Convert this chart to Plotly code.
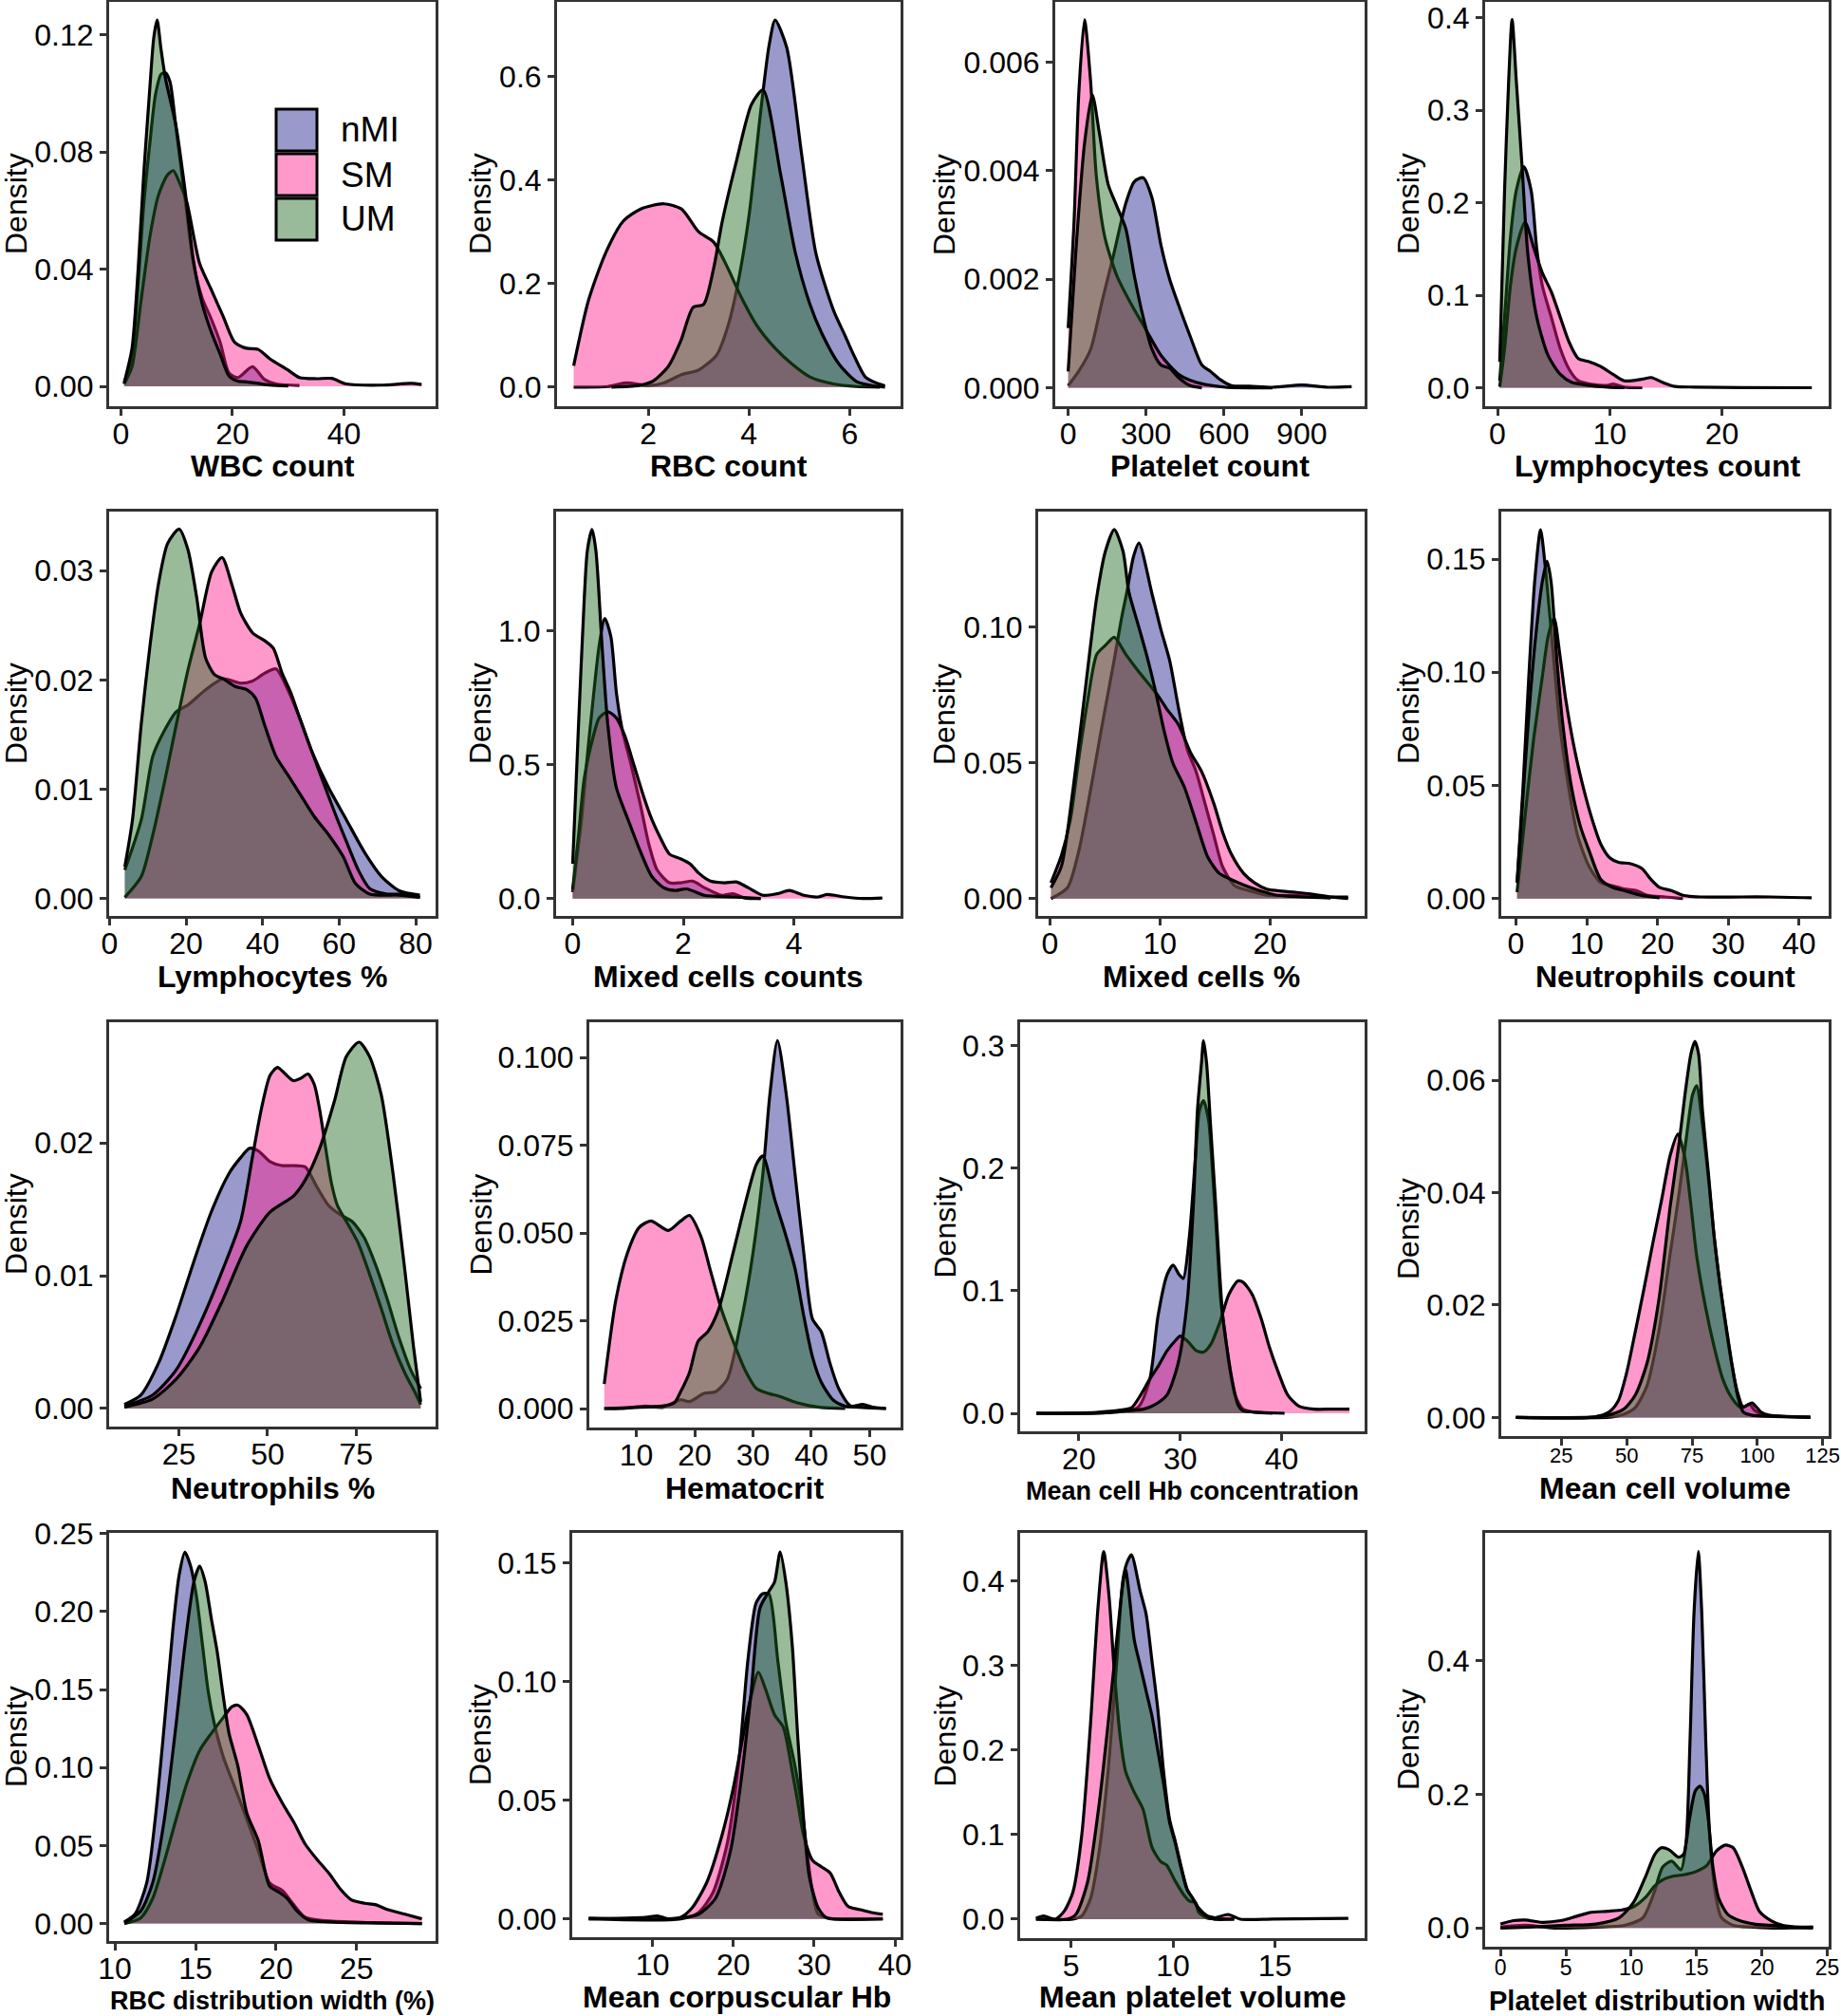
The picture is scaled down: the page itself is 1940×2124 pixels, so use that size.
import plotly.graph_objects as go

# ---------------- density curves ----------------
# WBC count
wbc_nmi_x = [0.6, 2, 3.1, 4.1, 5.2, 6.2, 7.2, 8, 8.8, 9.9, 11.5, 13, 14.6, 16.2, 17.8, 19.4, 21, 23.6, 25.7, 27.8, 32]
wbc_nmi_y = [0.0008, 0.011, 0.035, 0.062, 0.083, 0.0995, 0.1065, 0.107, 0.104, 0.088, 0.064, 0.042, 0.030, 0.023, 0.015, 0.0045, 0.003, 0.0067, 0.0024, 0.0008, 0.0003]
wbc_sm_x = [0.6, 2, 3.6, 5.2, 6.7, 8.3, 9.4, 10.4, 11.8, 14.1, 16.2, 18.3, 20.4, 22.5, 24.6, 26.7, 29.9, 32, 35, 37.8, 40.4, 46.7, 52, 53.9]
wbc_sm_y = [0.0008, 0.0067, 0.029, 0.051, 0.065, 0.072, 0.0736, 0.070, 0.063, 0.042, 0.033, 0.024, 0.015, 0.013, 0.0126, 0.0094, 0.0056, 0.003, 0.0026, 0.0027, 0.0008, 0.0004, 0.001, 0.0006]
wbc_um_x = [0.6, 2, 3.1, 4.1, 5.2, 5.9, 6.5, 7.2, 8, 9.9, 11.5, 13, 14.6, 16.2, 17.8, 19.4, 20.9, 22.5, 24.6, 26.7, 30]
wbc_um_y = [0.0013, 0.013, 0.04, 0.0725, 0.102, 0.119, 0.125, 0.115, 0.105, 0.0887, 0.067, 0.043, 0.028, 0.0186, 0.011, 0.0035, 0.0018, 0.0015, 0.001, 0.0004, 0.0001]

# RBC count
rbc_nmi_x = [0.52, 1.2, 1.56, 2.0, 2.31, 2.66, 3.0, 3.36, 3.59, 3.76, 4.0, 4.23, 4.4, 4.52, 4.75, 5.04, 5.33, 5.68, 5.91, 6.08, 6.31, 6.54, 6.7]
rbc_nmi_y = [0.0, 0.001, 0.008, 0.003, 0.008, 0.024, 0.033, 0.062, 0.12, 0.19, 0.33, 0.53, 0.66, 0.709, 0.656, 0.454, 0.258, 0.148, 0.099, 0.062, 0.0196, 0.0073, 0.0024]
rbc_sm_x = [0.52, 0.81, 1.15, 1.5, 1.85, 2.31, 2.66, 3.0, 3.3, 3.59, 3.82, 4.17, 4.52, 4.86, 5.21, 5.68, 6.14, 6.6]
rbc_sm_y = [0.041, 0.166, 0.258, 0.32, 0.344, 0.354, 0.344, 0.30, 0.28, 0.228, 0.179, 0.117, 0.075, 0.044, 0.0196, 0.006, 0.001, 0.0]
rbc_um_x = [1.27, 1.8, 2.1, 2.4, 2.65, 2.89, 3.1, 3.3, 3.47, 3.76, 4.05, 4.28, 4.63, 4.92, 5.21, 5.44, 5.79, 6.14, 6.5, 6.7]
rbc_um_y = [0.0, 0.003, 0.012, 0.04, 0.09, 0.154, 0.16, 0.23, 0.32, 0.44, 0.546, 0.574, 0.41, 0.26, 0.16, 0.105, 0.044, 0.0104, 0.002, 0.0]

# Platelet count
plt_nmi_x = [0, 40, 86, 131, 176, 222, 255, 289, 323, 357, 391, 425, 470, 515, 549, 583, 629, 700, 787, 900, 1000, 1092]
plt_nmi_y = [0.00004, 0.0003, 0.0007, 0.0016, 0.00247, 0.0034, 0.0038, 0.00387, 0.0035, 0.00264, 0.002, 0.00153, 0.00095, 0.00042, 0.0003, 0.00016, 0.00004, 0.00003, 0.00001, 0.00005, 0.00001, 0.00002]
plt_sm_x = [0, 22.6, 40.7, 63, 86, 108.5, 142, 188, 244, 301, 357, 425, 493, 606, 787]
plt_sm_y = [0.0011, 0.00305, 0.0054, 0.00678, 0.00568, 0.0039, 0.00276, 0.00206, 0.00153, 0.00106, 0.0006, 0.00025, 0.0001, 0.00001, 0.0]
plt_um_x = [0, 29, 63, 93, 120, 154, 188, 222, 255, 289, 323, 357, 391, 425, 470, 515]
plt_um_y = [0.0003, 0.00247, 0.0045, 0.0054, 0.0047, 0.00375, 0.00334, 0.00293, 0.00206, 0.0013, 0.00071, 0.00042, 0.00036, 0.00019, 0.00004, 0.0]

# Lymphocytes count
lym_nmi_x = [0.2, 0.63, 1.15, 1.67, 2.35, 3.0, 3.5, 4.0, 4.8, 5.6, 6.4, 7.2, 8.2, 9.8, 10.3, 11.3, 12.9]
lym_nmi_y = [0.0075, 0.076, 0.162, 0.213, 0.239, 0.213, 0.15, 0.11, 0.076, 0.042, 0.0195, 0.0075, 0.004, 0.0024, 0.004, 0.0007, 0.0]
lym_sm_x = [0.2, 0.63, 1.15, 1.67, 2.45, 3.24, 4.0, 4.8, 5.6, 6.4, 7.2, 8.2, 9.2, 10.3, 11.3, 12.9, 13.7, 14.7, 15.8, 17.6, 21.8, 28]
lym_sm_y = [0.001, 0.042, 0.11, 0.151, 0.179, 0.151, 0.124, 0.1035, 0.076, 0.0487, 0.0315, 0.028, 0.023, 0.0144, 0.0075, 0.0093, 0.011, 0.0058, 0.0014, 0.0007, 0.0002, 0.0]
lym_um_x = [0.2, 0.63, 1.0, 1.3, 1.67, 2.2, 2.7, 3.5, 4.5, 5.6, 6.6, 8.2, 9.8, 11.3]
lym_um_y = [0.028, 0.213, 0.333, 0.398, 0.333, 0.237, 0.145, 0.076, 0.035, 0.0144, 0.0058, 0.0024, 0.0007, 0.0]

# Lymphocytes %
lyp_nmi_x = [4.0, 8.3, 11.3, 14.4, 17.5, 20.5, 25.1, 29.7, 34.3, 37.4, 40.5, 43.5, 46.6, 49.7, 52.7, 57.3, 61.9, 66.5, 71.1, 75.7, 81.1]
lyp_nmi_y = [0.0026, 0.0072, 0.013, 0.0154, 0.0171, 0.0177, 0.0191, 0.0201, 0.0197, 0.0199, 0.0206, 0.021, 0.0191, 0.0165, 0.0136, 0.0101, 0.0072, 0.0043, 0.002, 0.0007, 0.0003]
lyp_sm_x = [4, 8.3, 11.3, 14.4, 17.5, 20.5, 23.6, 26.7, 29.4, 32, 34.3, 37.4, 40.5, 42.8, 45.1, 47.4, 49.7, 52.7, 55.8, 58.9, 61.9, 65, 68, 72.6, 77.2, 81.1]
lyp_sm_y = [0.0001, 0.002, 0.0058, 0.0107, 0.016, 0.0209, 0.0252, 0.0299, 0.0312, 0.0287, 0.0261, 0.0243, 0.0236, 0.0229, 0.0206, 0.0188, 0.0165, 0.0136, 0.0107, 0.0078, 0.0052, 0.0026, 0.0009, 0.0004, 0.0004, 0.0001]
lyp_um_x = [4.0, 6.0, 8.3, 10.6, 12.9, 15.2, 18.2, 20.5, 22.8, 25.1, 27.4, 29.7, 32.8, 35.9, 38.2, 40.5, 43.5, 46.6, 49.7, 53.5, 57.3, 61.1, 64.2, 68, 75.7, 81.1]
lyp_um_y = [0.0029, 0.0072, 0.016, 0.0232, 0.029, 0.0325, 0.0338, 0.0319, 0.0275, 0.022, 0.0205, 0.0201, 0.0194, 0.0191, 0.0183, 0.0159, 0.013, 0.0113, 0.0096, 0.0075, 0.0058, 0.0038, 0.0014, 0.0004, 0.0003, 0.0001]

# Mixed cells counts
mxc_nmi_x = [0, 0.16, 0.265, 0.37, 0.48, 0.58, 0.69, 0.79, 0.9, 1.06, 1.22, 1.38, 1.53, 1.75, 1.96, 2.17, 2.38, 2.7, 2.9, 3.12, 3.4]
mxc_nmi_y = [0.024, 0.296, 0.533, 0.746, 0.947, 1.047, 0.98, 0.77, 0.627, 0.497, 0.355, 0.201, 0.106, 0.059, 0.059, 0.065, 0.041, 0.012, 0.018, 0.002, 0.0]
mxc_sm_x = [0, 0.106, 0.21, 0.37, 0.48, 0.635, 0.79, 0.95, 1.11, 1.27, 1.43, 1.59, 1.75, 1.96, 2.12, 2.28, 2.49, 2.75, 2.96, 3.17, 3.44, 3.7, 3.92, 4.18, 4.44, 4.6, 4.92, 5.24, 5.6]
mxc_sm_y = [0.035, 0.237, 0.45, 0.604, 0.675, 0.698, 0.675, 0.604, 0.497, 0.39, 0.296, 0.225, 0.166, 0.148, 0.13, 0.095, 0.065, 0.059, 0.062, 0.041, 0.012, 0.018, 0.03, 0.012, 0.006, 0.015, 0.006, 0.0, 0.002]
mxc_um_x = [0, 0.106, 0.21, 0.265, 0.35, 0.42, 0.53, 0.635, 0.79, 1.0, 1.22, 1.43, 1.64, 1.85, 2.06, 2.38, 2.9, 3.4]
mxc_um_y = [0.13, 0.65, 1.124, 1.3, 1.379, 1.3, 0.947, 0.65, 0.414, 0.296, 0.178, 0.083, 0.041, 0.03, 0.036, 0.012, 0.006, 0.0]

# Mixed cells %
mxp_nmi_x = [0.1, 1.6, 2.66, 3.7, 4.8, 5.85, 6.5, 7.0, 7.6, 8.1, 9.3, 10.1, 10.9, 11.7, 12.5, 13.3, 14.1, 14.9, 15.7, 16.8, 18.1, 19.7, 22.3, 24.5, 27.1]
mxp_nmi_y = [0.0, 0.004, 0.018, 0.04, 0.065, 0.088, 0.103, 0.113, 0.126, 0.131, 0.112, 0.099, 0.0875, 0.07, 0.0548, 0.0467, 0.035, 0.0233, 0.0117, 0.0047, 0.0029, 0.0012, 0.0012, 0.0006, 0.0006]
mxp_sm_x = [0.1, 1.06, 1.86, 2.66, 3.46, 4.26, 5.05, 5.85, 6.9, 8.0, 9.0, 9.84, 10.6, 11.7, 12.8, 13.8, 14.9, 15.7, 16.5, 17.6, 18.6, 19.7, 20.7, 22.3, 23.7, 25.5, 27.1]
mxp_sm_y = [0.0058, 0.016, 0.029, 0.0525, 0.0735, 0.09, 0.0933, 0.0963, 0.09, 0.084, 0.079, 0.0747, 0.07, 0.064, 0.0537, 0.0467, 0.035, 0.0245, 0.0163, 0.0093, 0.0058, 0.0035, 0.0029, 0.0023, 0.0017, 0.0006, 0.0]
mxp_um_x = [0.1, 1.06, 2.13, 3.19, 4.26, 5.05, 5.85, 6.65, 7.18, 7.98, 8.78, 9.57, 10.37, 11.17, 12.23, 13.3, 14.36, 15.4, 16.5, 17.8, 19.1, 20.7, 22.9, 25.5]
mxp_um_y = [0.0040, 0.012, 0.041, 0.076, 0.111, 0.128, 0.136, 0.128, 0.113, 0.1015, 0.09, 0.077, 0.062, 0.05, 0.041, 0.028, 0.0152, 0.0093, 0.007, 0.0047, 0.0029, 0.0012, 0.0006, 0.0002]

# Neutrophils count
neu_nmi_x = [0.17, 1.0, 1.82, 2.65, 3.48, 4.14, 4.97, 6.2, 7.46, 8.7, 10.36, 12.0, 13.7, 15.3, 17.0, 18.6, 21.1, 23.6]
neu_nmi_y = [0.007, 0.049, 0.098, 0.14, 0.163, 0.147, 0.119, 0.077, 0.049, 0.028, 0.014, 0.007, 0.0056, 0.0042, 0.0035, 0.0014, 0.0007, 0.0]
neu_sm_x = [0.17, 1.24, 2.49, 3.73, 4.56, 5.39, 6.2, 7.04, 8.28, 9.53, 10.77, 12.0, 13.26, 14.5, 16.2, 17.8, 19.1, 20.3, 21.95, 23.6, 26.1, 31.9, 36, 41.8]
neu_sm_y = [0.0028, 0.035, 0.07, 0.098, 0.116, 0.124, 0.108, 0.088, 0.066, 0.049, 0.035, 0.024, 0.018, 0.016, 0.0154, 0.0133, 0.0084, 0.0049, 0.0035, 0.0014, 0.0007, 0.0007, 0.0007, 0.0003]
neu_um_x = [0.17, 1.24, 2.07, 2.9, 3.73, 4.4, 4.97, 5.8, 6.63, 7.87, 9.1, 10.36, 12.0, 13.7, 15.3, 17.8, 20.3]
neu_um_y = [0.007, 0.056, 0.091, 0.119, 0.14, 0.149, 0.14, 0.105, 0.077, 0.049, 0.032, 0.021, 0.0084, 0.0049, 0.0035, 0.0014, 0.0003]

# Neutrophils %
nep_nmi_x = [9.6, 14.2, 19.2, 24.2, 29.1, 34.1, 39.1, 42.4, 44.9, 47.4, 50.7, 54, 57.3, 60.6, 63.9, 67.2, 70.5, 73.8, 77.2, 80.5, 83.8, 87.1, 90.4, 93.2]
nep_nmi_y = [0.0003, 0.001, 0.0034, 0.007, 0.011, 0.0148, 0.0177, 0.0189, 0.0196, 0.0194, 0.0186, 0.0183, 0.0183, 0.0182, 0.0167, 0.0153, 0.0146, 0.0141, 0.0129, 0.0108, 0.0082, 0.0053, 0.0029, 0.0015]
nep_sm_x = [9.6, 17.5, 24.2, 30.8, 37.4, 42.4, 45.7, 48.2, 50.7, 52.8, 55, 57.3, 59.5, 61.4, 63.2, 64.7, 66.4, 68, 69.7, 72.2, 75.5, 78.8, 82.1, 85.4, 88.7, 92, 93.2]
nep_sm_y = [0.0002, 0.001, 0.0029, 0.0063, 0.0105, 0.0141, 0.0189, 0.0225, 0.0251, 0.0257, 0.0252, 0.0247, 0.0249, 0.0252, 0.0244, 0.0225, 0.0196, 0.017, 0.0153, 0.0141, 0.0125, 0.0101, 0.0075, 0.0048, 0.0027, 0.001, 0.0003]
nep_um_x = [9.6, 17.5, 24.2, 30.8, 37.4, 44.0, 50.7, 57.3, 60.6, 64.7, 68.9, 72.2, 75.8, 78.8, 82.1, 85.4, 88.7, 91.2, 93.2]
nep_um_y = [0.0001, 0.0007, 0.0022, 0.0046, 0.0082, 0.0122, 0.0148, 0.016, 0.0172, 0.0196, 0.0232, 0.0265, 0.0276, 0.0265, 0.0236, 0.0177, 0.0105, 0.0046, 0.0005]

# Hematocrit
hct_nmi_x = [4.5, 7.5, 11.5, 14.5, 17.6, 19.1, 21.6, 23.6, 25.6, 27.6, 29.6, 31.7, 32.9, 34.2, 35.7, 37.2, 38.7, 40.2, 41.7, 43.2, 44.7, 46.8, 48.8, 50.8, 52.8]
hct_nmi_y = [0.0, 0.0, 0.0007, 0.0003, 0.0025, 0.002, 0.0043, 0.0048, 0.0084, 0.0219, 0.0399, 0.0669, 0.0895, 0.1048, 0.0895, 0.0669, 0.0444, 0.0255, 0.0219, 0.0129, 0.0057, 0.0007, 0.0012, 0.0003, 0.0]
hct_sm_x = [4.5, 6.5, 8.5, 10.5, 12.5, 15.5, 17.6, 19.1, 21.1, 22.6, 24.6, 26.6, 28.6, 30.6, 32.7, 34.7, 36.7, 38.7, 41.7, 45.8]
hct_sm_y = [0.007, 0.031, 0.0444, 0.0516, 0.0534, 0.0507, 0.0534, 0.055, 0.0489, 0.0399, 0.0282, 0.0192, 0.0111, 0.0057, 0.0043, 0.0034, 0.0021, 0.0012, 0.0003, 0.0]
hct_um_x = [4.5, 9.5, 14.5, 16.5, 17.6, 19.1, 20.6, 22.3, 24.1, 26.6, 28.6, 30.6, 31.7, 33.7, 35.7, 37.2, 38.7, 40.2, 41.7, 43.7, 45.8, 48.8, 52.8]
hct_um_y = [0.0, 0.0003, 0.0007, 0.0016, 0.0048, 0.0102, 0.0192, 0.022, 0.0282, 0.0444, 0.0579, 0.0696, 0.0719, 0.0597, 0.0489, 0.0399, 0.0264, 0.0147, 0.0075, 0.0025, 0.0007, 0.0003, 0.0]

# Mean cell Hb concentration
mch_nmi_x = [15.8, 23.5, 25.8, 27.0, 27.8, 28.7, 29.3, 29.9, 30.3, 30.9, 31.5, 31.9, 32.3, 32.8, 33.2, 33.6, 34.0, 34.4, 34.8, 35.4, 36.2, 37.4, 39.1]
mch_nmi_y = [0.0, 0.0008, 0.0046, 0.028, 0.079, 0.113, 0.121, 0.113, 0.11, 0.144, 0.208, 0.247, 0.255, 0.239, 0.196, 0.144, 0.092, 0.067, 0.041, 0.015, 0.0034, 0.0008, 0.0]
mch_sm_x = [15.8, 21.7, 24.1, 25.2, 26.1, 27.0, 27.8, 28.7, 29.6, 30.0, 30.7, 31.6, 32.3, 33.0, 33.9, 34.8, 35.7, 36.2, 37.1, 38.0, 38.8, 39.7, 40.6, 41.7, 43.2, 44.9, 46.7]
mch_sm_y = [0.0, 0.0008, 0.0026, 0.0046, 0.015, 0.028, 0.038, 0.051, 0.06, 0.063, 0.059, 0.051, 0.05, 0.056, 0.074, 0.097, 0.108, 0.107, 0.097, 0.077, 0.054, 0.033, 0.015, 0.0059, 0.0034, 0.0034, 0.0034]
mch_um_x = [15.8, 21.7, 24.6, 26.4, 27.5, 28.7, 29.8, 30.7, 31.3, 31.7, 32.1, 32.3, 32.6, 33.0, 33.5, 33.9, 34.2, 34.6, 35.1, 35.7, 36.2, 38.0, 40.3]
mch_um_y = [0.0, 0.0, 0.002, 0.0034, 0.007, 0.015, 0.041, 0.092, 0.17, 0.247, 0.286, 0.304, 0.286, 0.234, 0.17, 0.113, 0.079, 0.054, 0.028, 0.007, 0.002, 0.0008, 0.0]

# Mean cell volume
mcv_nmi_x = [7.6, 44.4, 48.9, 53.3, 57.8, 62.3, 66.7, 70.1, 73.4, 75.2, 76.8, 79.0, 81.3, 83.5, 85.7, 88.0, 90.2, 92.4, 94.6, 96.9, 99.1, 102.5, 109.2, 120.3]
mcv_nmi_y = [0.0, 0.0001, 0.0006, 0.0018, 0.0057, 0.0153, 0.0293, 0.04, 0.0518, 0.0574, 0.059, 0.052, 0.0425, 0.032, 0.0235, 0.016, 0.0095, 0.0045, 0.0018, 0.0024, 0.0012, 0.0004, 0.0002, 0.0001]
mcv_sm_x = [7.6, 37.7, 43.3, 46.7, 50.0, 53.3, 56.7, 60.0, 63.4, 66.7, 69.6, 72.3, 74.6, 76.8, 80.1, 83.5, 86.8, 90.2, 93.5, 95.8, 98.0, 101.3, 104.7, 111.4, 120.3]
mcv_sm_y = [0.0, 0.0001, 0.001, 0.0029, 0.008, 0.0153, 0.0231, 0.031, 0.0388, 0.0467, 0.0504, 0.0461, 0.0377, 0.0287, 0.0198, 0.0125, 0.0068, 0.0035, 0.0018, 0.0021, 0.0026, 0.001, 0.0004, 0.0002, 0.0]
mcv_um_x = [7.6, 37.7, 44.4, 48.9, 53.3, 57.8, 62.3, 66.7, 70.1, 72.3, 74.6, 76.1, 77.5, 79.0, 81.3, 83.5, 85.7, 88.0, 90.2, 92.4, 94.6, 98.0, 104.7, 120.3]
mcv_um_y = [0.0, 0.0001, 0.0006, 0.0015, 0.004, 0.0097, 0.0209, 0.0377, 0.049, 0.0574, 0.0647, 0.0669, 0.0647, 0.0546, 0.0433, 0.0321, 0.0237, 0.0164, 0.0097, 0.004, 0.001, 0.0004, 0.0002, 0.0]

# RBC distribution width (%)
rdw_nmi_x = [10.58, 11.24, 11.97, 12.5, 13.07, 13.6, 13.98, 14.34, 14.7, 15.07, 15.44, 15.8, 16.17, 16.72, 17.45, 18.18, 18.9, 19.6, 20.4, 21.1, 21.8, 22.9, 24.7, 26.6, 29.05]
rdw_nmi_y = [0.001, 0.006, 0.026, 0.067, 0.128, 0.189, 0.223, 0.238, 0.229, 0.209, 0.178, 0.148, 0.128, 0.107, 0.087, 0.067, 0.0466, 0.026, 0.021, 0.012, 0.004, 0.002, 0.001, 0.0004, 0.0]
rdw_sm_x = [10.58, 11.6, 12.34, 13.07, 13.8, 14.5, 15.26, 15.99, 16.72, 17.26, 17.63, 18.18, 18.9, 19.6, 20.4, 21.1, 21.8, 22.55, 23.3, 24.0, 24.7, 25.5, 26.2, 26.9, 28.0, 29.05]
rdw_sm_y = [0.0, 0.0036, 0.016, 0.04, 0.067, 0.091, 0.111, 0.122, 0.132, 0.139, 0.14, 0.134, 0.114, 0.093, 0.077, 0.065, 0.051, 0.041, 0.032, 0.022, 0.015, 0.013, 0.012, 0.009, 0.006, 0.003]
rdw_um_x = [10.58, 11.6, 12.34, 13.07, 13.8, 14.34, 14.9, 15.26, 15.6, 15.99, 16.35, 16.72, 17.08, 17.63, 18.18, 18.9, 19.6, 20.2, 20.7, 21.3, 22.0, 23.3, 25.5, 29.05]
rdw_um_y = [0.0004, 0.008, 0.026, 0.067, 0.128, 0.178, 0.219, 0.229, 0.219, 0.195, 0.174, 0.146, 0.122, 0.101, 0.071, 0.053, 0.024, 0.02, 0.016, 0.008, 0.0024, 0.001, 0.0004, 0.0]

# Mean corpuscular Hb
mhb_nmi_x = [2.1, 13.5, 15.7, 17.5, 19.3, 20.7, 21.8, 22.8, 23.6, 24.4, 25.5, 26.5, 27.6, 28.4, 29.1, 29.8, 30.5, 32.4, 38.5]
mhb_nmi_y = [0.0, 0.0, 0.0027, 0.0113, 0.0327, 0.067, 0.109, 0.133, 0.137, 0.137, 0.109, 0.083, 0.065, 0.0487, 0.0287, 0.0113, 0.002, 0.0, 0.0]
mhb_sm_x = [2.1, 9.1, 10.6, 12.0, 13.5, 14.9, 16.7, 18.6, 20.0, 21.1, 22.2, 23.1, 24.0, 25.1, 26.2, 27.3, 28.0, 28.7, 29.8, 30.9, 32.0, 33.1, 34.2, 35.6, 37.1, 38.5]
mhb_sm_y = [0.0, 0.0007, 0.0013, 0.0, 0.0007, 0.0047, 0.0153, 0.0353, 0.0553, 0.0753, 0.094, 0.104, 0.0967, 0.086, 0.0807, 0.062, 0.0487, 0.0353, 0.0247, 0.022, 0.0193, 0.0113, 0.0053, 0.004, 0.0027, 0.002]
mhb_um_x = [2.1, 9.1, 13.5, 15.7, 17.8, 19.65, 21.1, 22.2, 23.3, 24.4, 25.1, 25.8, 26.5, 27.3, 28.0, 28.7, 29.4, 30.5, 31.6, 34.5, 38.5]
mhb_um_y = [0.0004, 0.0, 0.0004, 0.002, 0.0087, 0.0287, 0.062, 0.0953, 0.131, 0.138, 0.142, 0.1547, 0.142, 0.115, 0.0753, 0.042, 0.018, 0.0047, 0.0004, 0.0, 0.0]

# Mean platelet volume
mpv_nmi_x = [3.28, 5.09, 5.52, 5.95, 6.38, 6.81, 7.24, 7.53, 7.73, 7.96, 8.39, 8.68, 8.97, 9.25, 9.54, 9.83, 10.11, 10.4, 10.69, 10.98, 11.26, 11.7, 12.27, 13.0]
mpv_nmi_y = [0.0, 0.0, 0.0037, 0.024, 0.0805, 0.174, 0.305, 0.399, 0.421, 0.431, 0.388, 0.361, 0.305, 0.249, 0.174, 0.118, 0.092, 0.062, 0.0356, 0.024, 0.013, 0.0037, 0.001, 0.0]
mpv_sm_x = [3.28, 3.65, 4.22, 4.66, 5.09, 5.52, 5.95, 6.32, 6.6, 6.87, 7.1, 7.39, 7.67, 8.1, 8.53, 8.97, 9.4, 9.68, 10.11, 10.55, 10.83, 11.1, 11.26, 11.7, 12.0, 12.7, 13.3, 14.9, 18.6]
mpv_sm_y = [0.001, 0.0037, 0.0, 0.0094, 0.032, 0.099, 0.23, 0.369, 0.435, 0.38, 0.3, 0.22, 0.175, 0.15, 0.13, 0.085, 0.068, 0.064, 0.045, 0.028, 0.021, 0.02, 0.008, 0.001, 0.0011, 0.0056, 0.0, 0.0, 0.001]
mpv_um_x = [3.28, 4.8, 5.23, 5.8, 6.38, 6.81, 7.24, 7.53, 7.67, 7.82, 8.1, 8.39, 8.68, 8.97, 9.25, 9.54, 9.83, 10.11, 10.4, 10.69, 10.98, 11.26, 11.7, 12.0, 13.0]
mpv_um_y = [0.0, 0.0, 0.0056, 0.043, 0.137, 0.23, 0.331, 0.395, 0.414, 0.39, 0.33, 0.3, 0.27, 0.24, 0.2, 0.16, 0.115, 0.09, 0.06, 0.035, 0.024, 0.012, 0.003, 0.0, 0.0]

# Platelet distribution width
pdw_nmi_x = [0, 1.9, 4.1, 7.3, 9.5, 10.9, 11.76, 12.4, 13.1, 13.8, 14.2, 14.5, 14.8, 15.13, 15.4, 15.7, 16.0, 16.5, 16.9, 17.8, 19.4, 21.2, 23.9]
pdw_nmi_y = [0.0014, 0.004, 0.0, 0.0014, 0.004, 0.0156, 0.0535, 0.091, 0.1, 0.087, 0.129, 0.281, 0.47, 0.563, 0.47, 0.281, 0.139, 0.044, 0.0156, 0.004, 0.0014, 0.0, 0.0014]
pdw_sm_x = [0, 1.0, 1.9, 3.2, 4.6, 5.5, 6.8, 8.2, 9.3, 10.2, 11.1, 11.8, 12.4, 13.1, 14.0, 14.9, 15.8, 16.5, 17.2, 17.8, 18.5, 19.2, 19.8, 20.7, 21.6, 23.0, 23.9]
pdw_sm_y = [0.006, 0.011, 0.012, 0.0085, 0.011, 0.0156, 0.023, 0.025, 0.027, 0.032, 0.046, 0.063, 0.072, 0.077, 0.0795, 0.084, 0.094, 0.115, 0.124, 0.12, 0.091, 0.0535, 0.025, 0.011, 0.004, 0.0014, 0.0014]
pdw_um_x = [0, 2.2, 5.0, 7.3, 9.1, 10.2, 11.1, 11.8, 12.3, 12.9, 13.6, 14.0, 14.45, 14.9, 15.26, 15.6, 15.9, 16.25, 16.7, 17.4, 18.3, 19.4, 20.7, 22.1, 23.9]
pdw_um_y = [0.0, 0.0014, 0.004, 0.006, 0.0156, 0.039, 0.077, 0.11, 0.12, 0.117, 0.106, 0.11, 0.162, 0.205, 0.212, 0.2, 0.162, 0.091, 0.044, 0.02, 0.011, 0.006, 0.004, 0.0014, 0.0]

# ---------------- tick labels ----------------
wbc_xt, wbc_yt = [0, 20, 40], ["0.00", "0.04", "0.08", "0.12"]
rbc_xt, rbc_yt = [2, 4, 6], ["0.0", "0.2", "0.4", "0.6"]
plt_xt, plt_yt = [0, 300, 600, 900], ["0.000", "0.002", "0.004", "0.006"]
lym_xt, lym_yt = [0, 10, 20], ["0.0", "0.1", "0.2", "0.3", "0.4"]
lyp_xt, lyp_yt = [0, 20, 40, 60, 80], ["0.00", "0.01", "0.02", "0.03"]
mxc_xt, mxc_yt = [0, 2, 4], ["0.0", "0.5", "1.0"]
mxp_xt, mxp_yt = [0, 10, 20], ["0.00", "0.05", "0.10"]
neu_xt, neu_yt = [0, 10, 20, 30, 40], ["0.00", "0.05", "0.10", "0.15"]
nep_xt, nep_yt = [25, 50, 75], ["0.00", "0.01", "0.02"]
hct_xt, hct_yt = [10, 20, 30, 40, 50], ["0.000", "0.025", "0.050", "0.075", "0.100"]
mch_xt, mch_yt = [20, 30, 40], ["0.0", "0.1", "0.2", "0.3"]
mcv_xt, mcv_yt = [25, 50, 75, 100, 125], ["0.00", "0.02", "0.04", "0.06"]
rdw_xt, rdw_yt = [10, 15, 20, 25], ["0.00", "0.05", "0.10", "0.15", "0.20", "0.25"]
mhb_xt, mhb_yt = [10, 20, 30, 40], ["0.00", "0.05", "0.10", "0.15"]
mpv_xt, mpv_yt = [5, 10, 15], ["0.0", "0.1", "0.2", "0.3", "0.4"]
pdw_xt, pdw_yt = [0, 5, 10, 15, 20, 25], ["0.0", "0.2", "0.4"]

groups = ["nMI", "SM", "UM"]
fills = ["rgba(28,28,142,0.45)", "rgba(255,28,142,0.45)", "rgba(28,104,28,0.45)"]

W, H = 1940, 2124
FONT = "Liberation Sans, Arial, sans-serif"

# panel layout: title, curves, ticks, axis ranges, box (left, right, top, bottom) px,
# title size, x tick size, title centre y px
panels = [
    ("WBC count", [(wbc_nmi_x, wbc_nmi_y), (wbc_sm_x, wbc_sm_y), (wbc_um_x, wbc_um_y)], wbc_xt, wbc_yt,
     [-2.1, 56.4], [-0.0068, 0.1312], (115, 459, 2, 428), 32, 32, 491),
    ("RBC count", [(rbc_nmi_x, rbc_nmi_y), (rbc_sm_x, rbc_sm_y), (rbc_um_x, rbc_um_y)], rbc_xt, rbc_yt,
     [0.19, 7.01], [-0.037, 0.744], (587, 949, 2, 428), 32, 32, 491),
    ("Platelet count", [(plt_nmi_x, plt_nmi_y), (plt_sm_x, plt_sm_y), (plt_um_x, plt_um_y)], plt_xt, plt_yt,
     [-49.7, 1142], [-0.00034, 0.00711], (1112, 1438, 2, 428), 32, 32, 491),
    ("Lymphocytes count", [(lym_nmi_x, lym_nmi_y), (lym_sm_x, lym_sm_y), (lym_um_x, lym_um_y)], lym_xt, lym_yt,
     [-1.1, 29.5], [-0.02, 0.417], (1565, 1927, 2, 428), 32, 32, 491),
    ("Lymphocytes %", [(lyp_nmi_x, lyp_nmi_y), (lyp_sm_x, lyp_sm_y), (lyp_um_x, lyp_um_y)], lyp_xt, lyp_yt,
     [-0.1, 85.2], [-0.0016, 0.0354], (115, 459, 539, 965), 32, 32, 1029),
    ("Mixed cells counts", [(mxc_nmi_x, mxc_nmi_y), (mxc_sm_x, mxc_sm_y), (mxc_um_x, mxc_um_y)], mxc_xt, mxc_yt,
     [-0.3, 5.93], [-0.065, 1.446], (586, 949, 539, 965), 32, 32, 1029),
    ("Mixed cells %", [(mxp_nmi_x, mxp_nmi_y), (mxp_sm_x, mxp_sm_y), (mxp_um_x, mxp_um_y)], mxp_xt, mxp_yt,
     [-1.06, 28.6], [-0.0064, 0.1426], (1094, 1438, 539, 965), 32, 32, 1029),
    ("Neutrophils count", [(neu_nmi_x, neu_nmi_y), (neu_sm_x, neu_sm_y), (neu_um_x, neu_um_y)], neu_xt, neu_yt,
     [-2.07, 44.2], [-0.0077, 0.171], (1582, 1927, 539, 965), 32, 32, 1029),
    ("Neutrophils %", [(nep_nmi_x, nep_nmi_y), (nep_sm_x, nep_sm_y), (nep_um_x, nep_um_y)], nep_xt, nep_yt,
     [5.3, 97.4], [-0.00136, 0.0291], (115, 459, 1077, 1503), 32, 32, 1568),
    ("Hematocrit", [(hct_nmi_x, hct_nmi_y), (hct_sm_x, hct_sm_y), (hct_um_x, hct_um_y)], hct_xt, hct_yt,
     [1.94, 55.3], [-0.0054, 0.110], (621, 949, 1077, 1504), 32, 32, 1568),
    ("Mean cell Hb concentration", [(mch_nmi_x, mch_nmi_y), (mch_sm_x, mch_sm_y), (mch_um_x, mch_um_y)], mch_xt, mch_yt,
     [14.2, 48.2], [-0.0147, 0.319], (1075, 1438, 1077, 1508), 27, 32, 1571),
    ("Mean cell volume", [(mcv_nmi_x, mcv_nmi_y), (mcv_sm_x, mcv_sm_y), (mcv_um_x, mcv_um_y)], mcv_xt, mcv_yt,
     [2.0, 127.3], [-0.0033, 0.0703], (1582, 1927, 1077, 1513), 32, 22, 1568),
    ("RBC distribution width (%)", [(rdw_nmi_x, rdw_nmi_y), (rdw_sm_x, rdw_sm_y), (rdw_um_x, rdw_um_y)], rdw_xt, rdw_yt,
     [9.64, 29.9], [-0.0112, 0.2504], (115, 459, 1615, 2045), 27, 32, 2108),
    ("Mean corpuscular Hb", [(mhb_nmi_x, mhb_nmi_y), (mhb_sm_x, mhb_sm_y), (mhb_um_x, mhb_um_y)], mhb_xt, mhb_yt,
     [0.06, 40.7], [-0.0077, 0.1627], (603, 949, 1615, 2041), 32, 32, 2104),
    ("Mean platelet volume", [(mpv_nmi_x, mpv_nmi_y), (mpv_sm_x, mpv_sm_y), (mpv_um_x, mpv_um_y)], mpv_xt, mpv_yt,
     [2.5, 19.4], [-0.0225, 0.457], (1075, 1438, 1615, 2042), 32, 32, 2104),
    ("Platelet distribution width", [(pdw_nmi_x, pdw_nmi_y), (pdw_sm_x, pdw_sm_y), (pdw_um_x, pdw_um_y)], pdw_xt, pdw_yt,
     [-1.17, 25.1], [-0.028, 0.591], (1565, 1927, 1615, 2051), 29, 23, 2108),
]

fig = go.Figure()
annotations = []

for i, (title, curves, xt, yt, xr, yr, box, title_size, xtick_size, title_y) in enumerate(panels):
    n = "" if i == 0 else str(i + 1)
    left, right, top, bottom = box
    for (xs, ys), g, fc in zip(curves, groups, fills):
        fig.add_trace(go.Scatter(
            x=xs, y=ys, name=g, mode="lines", fill="tozeroy", fillcolor=fc,
            line=dict(color="black", width=3.2, shape="spline", smoothing=0.7),
            xaxis="x" + n, yaxis="y" + n, showlegend=False, hoverinfo="skip",
        ))

    common = dict(showline=True, mirror=True, linecolor="#333333", linewidth=3,
                  ticks="outside", ticklen=7, tickwidth=2.5, tickcolor="#333333",
                  showgrid=False, zeroline=False, automargin=False)
    fig.layout["xaxis" + n] = dict(
        domain=[left / W, right / W], range=xr, anchor="y" + n,
        tickvals=xt, ticktext=[str(v) for v in xt], ticklabelstandoff=-8,
        ticklabeloverflow="allow",
        tickfont=dict(family=FONT, size=xtick_size, color="black"), **common)
    fig.layout["yaxis" + n] = dict(
        domain=[1 - bottom / H, 1 - top / H], range=yr, anchor="x" + n,
        tickvals=[float(v) for v in yt], ticktext=yt,
        tickfont=dict(family=FONT, size=32, color="black"), **common)

    # x axis title (bold) and "Density"
    annotations.append(dict(
        text=title, xref="paper", yref="paper", x=(left + right) / 2 / W, y=1 - title_y / H,
        xanchor="center", yanchor="middle", showarrow=False,
        font=dict(family=FONT, size=title_size, color="black", weight="bold")))
    col = i % 4
    annotations.append(dict(
        text="Density", xref="paper", yref="paper", x=(17 + 489 * col) / W, y=1 - (top + bottom) / 2 / H,
        xanchor="center", yanchor="middle", textangle=-90, showarrow=False,
        font=dict(family=FONT, size=32, color="black")))

# legend inside the first panel
shapes = []
legend_rows = [(115, 159), (162, 206), (209, 253)]
for g, fc, (y0, y1) in zip(groups, fills, legend_rows):
    shapes.append(dict(type="rect", xref="paper", yref="paper",
                       x0=291 / W, x1=334 / W, y0=1 - y1 / H, y1=1 - y0 / H,
                       fillcolor=fc, line=dict(color="black", width=3)))
    annotations.append(dict(
        text=g, xref="paper", yref="paper", x=357 / W, y=1 - (y0 + y1) / 2 / H,
        xanchor="left", yanchor="middle", showarrow=False,
        font=dict(family=FONT, size=37, color="black")))

fig.update_layout(
    width=W, height=H, margin=dict(l=0, r=0, t=0, b=0, autoexpand=False),
    paper_bgcolor="white", plot_bgcolor="white",
    annotations=annotations, shapes=shapes,
)

fig.write_html("out.html", config={"displayModeBar": False},
               post_script="document.body.style.margin='0';")
